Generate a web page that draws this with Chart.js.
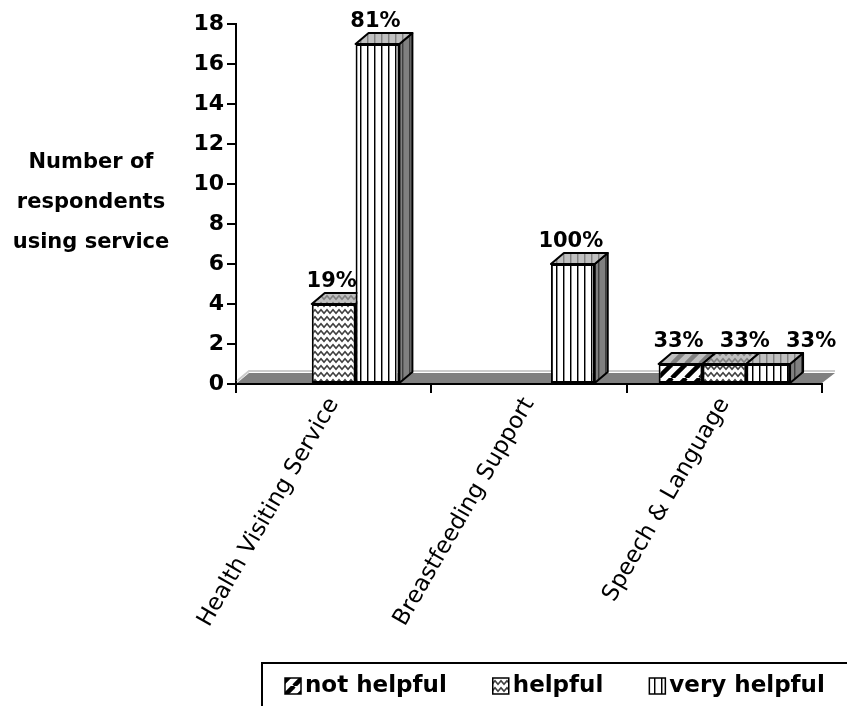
<!DOCTYPE html>
<html><head><meta charset="utf-8">
<script src="https://cdn.jsdelivr.net/npm/chart.js@4.4.0/dist/chart.umd.min.js"></script>
<style>html,body{margin:0;padding:0;background:#fff}#wrap{width:847px;height:706px;position:relative}</style>
</head><body><div id="wrap"><canvas id="c" width="847" height="706"></canvas></div>
<script>
// ---- data ----
const categories = ['Health Visiting Service', 'Breastfeeding Support', 'Speech & Language'];
const seriesNames = ['not helpful', 'helpful', 'very helpful'];
const notHelpful = [0, 0, 1];
const helpful = [4, 0, 1];
const veryHelpful = [17, 6, 1];
const notHelpfulPct = [null, null, '33%'];
const helpfulPct = ['19%', null, '33%'];
const veryHelpfulPct = ['81%', '100%', '33%'];
const yMin = 0, yMax = 18, yStep = 2;
const yTitle = ['Number of', 'respondents', 'using service'];

// ---- styling ----
const FONT = '"DejaVu Sans", sans-serif';
const DX = 13, DY = 11;

function makePattern(kind, bg, fg) {
  const c = document.createElement('canvas');
  const x = c.getContext('2d');
  if (kind === 'diag') {
    const s = 14; c.width = s; c.height = s;
    x.fillStyle = bg; x.fillRect(0, 0, s, s);
    x.strokeStyle = fg; x.lineWidth = 4.5;
    for (const o of [-s, 0, s]) { x.beginPath(); x.moveTo(o, s); x.lineTo(o + s, 0); x.stroke(); }
  } else if (kind === 'wave') {
    const w = 12, h = 7; c.width = w; c.height = h;
    x.fillStyle = bg; x.fillRect(0, 0, w, h);
    x.strokeStyle = fg; x.lineWidth = 1.6;
    x.beginPath();
    x.moveTo(-3, 2); x.lineTo(0, 5.2); x.lineTo(3, 1.8); x.lineTo(6, 5.2); x.lineTo(9, 1.8); x.lineTo(12, 5.2); x.lineTo(15, 1.8);
    x.stroke();
  } else {
    const w = 7, h = 7; c.width = w; c.height = h;
    x.fillStyle = bg; x.fillRect(0, 0, w, h);
    x.fillStyle = fg; x.fillRect(3, 0, 1, h);
    x.globalAlpha = 0.45; x.fillRect(4, 0, 1, h);
  }
  return x.createPattern(c, 'repeat');
}
const kinds = ['diag', 'wave', 'vert'];
const frontPat = kinds.map(k => makePattern(k, '#ffffff', k === 'wave' ? '#404040' : '#000000'));
const topPat = kinds.map(k => makePattern(k, '#c0c0c0', '#808080'));
const sidePat = kinds.map(k => makePattern(k, '#808080', '#404040'));
const pctLabels = [notHelpfulPct, helpfulPct, veryHelpfulPct];

const threeD = {
  id: 'threeD',
  beforeDatasetsDraw(chart) {
    const ctx = chart.ctx, a = chart.chartArea;
    const y0 = chart.scales.y.getPixelForValue(0);
    ctx.save();
    // floor
    ctx.fillStyle = '#808080';
    ctx.beginPath();
    ctx.moveTo(a.left + 1, y0 - 1); ctx.lineTo(a.right, y0 - 1);
    ctx.lineTo(a.right + DX, y0 - DY); ctx.lineTo(a.left + DX, y0 - DY); ctx.closePath();
    ctx.fill();
    ctx.strokeStyle = '#cccccc'; ctx.lineWidth = 2;
    ctx.beginPath();
    ctx.moveTo(a.left + 1, y0 - 3); ctx.lineTo(a.left + DX, y0 - DY - 2); ctx.lineTo(a.right + DX, y0 - DY - 2);
    ctx.stroke();
    // bar tops and sides
    ctx.strokeStyle = '#000'; ctx.lineWidth = 2; ctx.lineJoin = 'round';
    for (let i = 0; i < categories.length; i++) {
      chart.data.datasets.forEach((ds, d) => {
        const v = ds.data[i];
        if (!v) return;
        const el = chart.getDatasetMeta(d).data[i];
        const l = el.x - el.width / 2, r = el.x + el.width / 2, t = el.y, b = el.base;
        ctx.fillStyle = sidePat[d];
        ctx.beginPath();
        ctx.moveTo(r, b); ctx.lineTo(r + DX, b - DY); ctx.lineTo(r + DX, t - DY); ctx.lineTo(r, t); ctx.closePath();
        ctx.fill(); ctx.stroke();
        ctx.fillStyle = topPat[d];
        ctx.beginPath();
        ctx.moveTo(l, t); ctx.lineTo(l + DX, t - DY); ctx.lineTo(r + DX, t - DY); ctx.lineTo(r, t); ctx.closePath();
        ctx.fill(); ctx.stroke();
      });
    }
    ctx.restore();
  },
  afterDatasetsDraw(chart) {
    const ctx = chart.ctx;
    ctx.save();
    ctx.font = 'bold 21px ' + FONT; ctx.fillStyle = '#000';
    ctx.textAlign = 'center'; ctx.textBaseline = 'alphabetic';
    for (let i = 0; i < categories.length; i++) {
      let prevRight = -Infinity, prevY = null;
      chart.data.datasets.forEach((ds, d) => {
        const lab = pctLabels[d][i];
        if (!lab) return;
        const el = chart.getDatasetMeta(d).data[i];
        const w = ctx.measureText(lab).width;
        const y = el.y - DY - 6;
        let cx = el.x - 2;
        if (prevY !== null && Math.abs(prevY - y) < 22 && cx - w / 2 < prevRight + 16) cx = prevRight + 16 + w / 2;
        prevRight = cx + w / 2; prevY = y;
        ctx.fillText(lab, cx, y);
      });
    }
    ctx.restore();
  },
  afterDraw(chart) {
    const ctx = chart.ctx;
    ctx.save();
    ctx.fillStyle = '#000';
    ctx.font = 'bold 21px ' + FONT;
    ctx.textAlign = 'center'; ctx.textBaseline = 'middle';
    yTitle.forEach((t, k) => ctx.fillText(t, 91, 163 + k * 40));
    // legend
    ctx.font = 'bold 23px ' + FONT;
    ctx.lineWidth = 2; ctx.strokeStyle = '#000';
    ctx.strokeRect(262, 663, 620, 80);
    ctx.textAlign = 'left';
    let x = 285;
    seriesNames.forEach((n, d) => {
      ctx.fillStyle = frontPat[d];
      ctx.fillRect(x, 678, 16, 16);
      ctx.lineWidth = 1.5; ctx.strokeRect(x, 678, 16, 16);
      ctx.fillStyle = '#000';
      ctx.fillText(n, x + 20, 686);
      x += 20 + ctx.measureText(n).width + 46;
    });
    ctx.restore();
  }
};

new Chart(document.getElementById('c'), {
  type: 'bar',
  data: {
    labels: categories,
    datasets: [notHelpful, helpful, veryHelpful].map((arr, d) => ({
      label: seriesNames[d],
      data: arr,
      backgroundColor: frontPat[d],
      borderColor: '#000',
      borderWidth: 2,
      borderSkipped: false,
      categoryPercentage: 0.673,
      barPercentage: 1.0
    }))
  },
  options: {
    responsive: false,
    animation: false,
    devicePixelRatio: 1,
    layout: { padding: { top: 24, right: 25, bottom: 0, left: 0 } },
    plugins: { legend: { display: false }, tooltip: { enabled: false } },
    scales: {
      x: {
        grid: { drawOnChartArea: false, drawTicks: true, tickLength: 9, color: '#000', lineWidth: 2, offset: true },
        border: { color: '#000', width: 2 },
        ticks: { color: '#000', font: { family: FONT, size: 23 }, minRotation: 60, maxRotation: 60, padding: 0 },
        afterFit(s) { s.height = 322; }
      },
      y: {
        min: yMin, max: yMax,
        grid: { drawOnChartArea: false, drawTicks: true, tickLength: 9, color: '#000', lineWidth: 2 },
        border: { color: '#000', width: 2 },
        ticks: { stepSize: yStep, color: '#000', font: { family: FONT, size: 22, weight: 'bold' }, padding: 3 },
        afterFit(s) { s.width = 236; }
      }
    }
  },
  plugins: [threeD]
});
</script>
</body></html>
